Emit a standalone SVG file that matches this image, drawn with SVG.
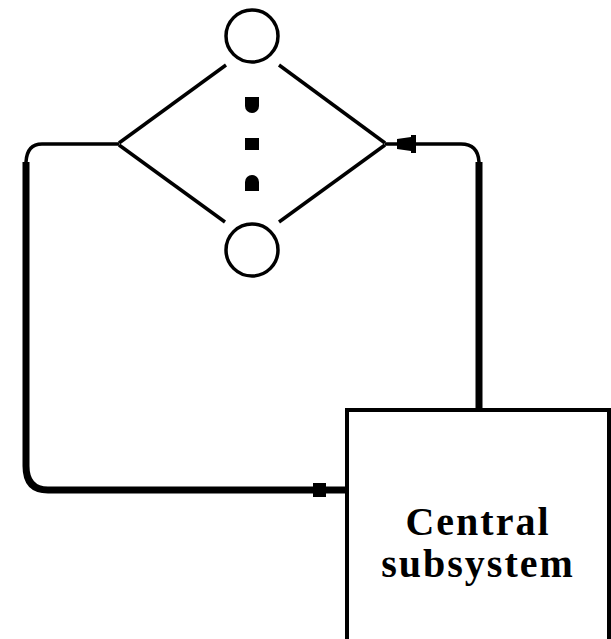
<svg xmlns="http://www.w3.org/2000/svg" width="611" height="639" viewBox="0 0 611 639">
<style>
.thin{fill:none;stroke:#000;stroke-width:3.5}
.thick{fill:none;stroke:#000;stroke-width:7}
.node{fill:#fff;stroke:#000;stroke-width:3.5}
.box{fill:#fff;stroke:#000;stroke-width:4}
.lbl{font-family:"Liberation Serif",serif;font-size:40px;font-weight:bold;letter-spacing:2px;text-anchor:middle;fill:#000}
</style>
<rect width="611" height="639" fill="#fff"/>
<g id="connectors">
<line class="thin" x1="226" y1="65" x2="119" y2="143"/>
<line class="thin" x1="119" y1="145" x2="225" y2="222"/>
<line class="thin" x1="279" y1="65" x2="385" y2="143"/>
<line class="thin" x1="385" y1="145" x2="279" y2="222"/>
<path class="thin" d="M119,144 H42 Q27,144 26,162"/>
<path class="thick" d="M26,162 V466 Q26,490 48,490 H345"/>
<rect x="313" y="483" width="13" height="14" fill="#000"/>
<path class="thin" d="M385,144 H461 Q478,144 479,162"/>
<path class="thick" d="M479,162 V410"/>
<polygon points="397,139 411,137 411,135 416,135 416,153 411,153 411,151 397,149" fill="#000"/>
</g>
<g id="top-node"><circle class="node" cx="252" cy="36" r="26"/></g>
<g id="bottom-node"><circle class="node" cx="252" cy="250" r="26"/></g>
<g id="dots">
<path d="M245,97 H259 V106 A7,7 0 0 1 245,106 Z" fill="#000"/>
<rect x="245" y="138" width="14" height="12" fill="#000"/>
<path d="M245,191 H259 V182 A7,7 0 0 0 245,182 Z" fill="#000"/>
</g>
<g id="central-subsystem">
<rect class="box" x="347" y="410" width="262" height="240"/>
<text class="lbl" x="478" y="535">Central</text>
<text class="lbl" x="478" y="577">subsystem</text>
</g>
</svg>
